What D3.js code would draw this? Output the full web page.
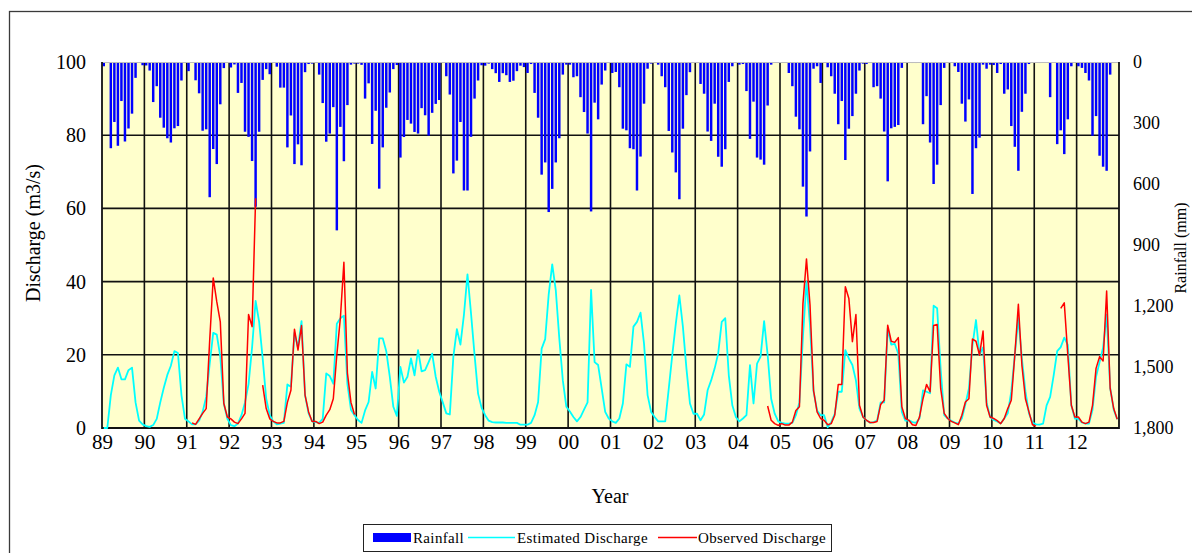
<!DOCTYPE html>
<html><head><meta charset="utf-8">
<script src="https://cdn.jsdelivr.net/npm/d3@7"></script>
<style>
html,body{margin:0;padding:0;background:#fff;}
svg{display:block;font-family:"Liberation Serif","Times New Roman",serif;}
</style></head>
<body><svg id="chart" width="1192" height="553"></svg>
<script>
// ---- data (monthly, Jan 1989 .. Dec 2012) ----
const yearLabels = ["89","90","91","92","93","94","95","96","97","98","99","00","01","02","03","04","05","06","07","08","09","10","11","12"];
const dischargeTicks = [0,20,40,60,80,100];
const rainfallTicks = [0,300,600,900,1200,1500,1800];

// Rainfall (mm), one row per year
const rainfall = [
 21,0,424,295,412,192,391,327,254,78,0,16,
 17,42,197,119,274,323,375,396,326,315,91,5,
 45,0,90,154,338,331,665,428,502,208,30,0,
 27,12,152,103,343,368,487,712,343,88,35,60,
 0,23,126,126,420,263,502,405,508,50,10,8,
 5,62,202,392,352,222,828,319,488,212,13,8,
 8,14,180,105,403,240,623,420,225,150,35,15,
 470,369,285,303,344,352,227,262,362,250,206,187,
 5,70,160,548,485,295,632,632,368,180,91,16,
 18,8,35,55,98,55,65,98,92,45,18,25,
 54,10,152,274,554,494,738,624,494,375,62,13,
 13,75,70,173,246,352,735,200,282,111,42,5,
 54,49,124,328,336,424,429,632,465,205,33,8,
 5,13,70,124,339,445,543,675,328,163,50,5,
 5,108,156,342,388,205,466,515,429,98,21,5,
 13,10,143,378,195,470,480,505,214,13,0,0,
 0,0,54,119,269,331,613,760,440,33,21,103,
 0,26,70,156,306,192,482,328,266,156,42,8,
 10,5,124,119,180,342,587,326,319,310,29,0,
 5,5,5,0,306,168,396,600,505,212,29,0,
 0,21,49,205,293,184,649,424,372,13,33,13,
 15,54,10,156,135,315,417,535,245,156,10,0,
 0,5,0,0,173,0,404,336,453,282,21,0,
 21,29,54,91,363,266,461,515,535,62,5,0
];

// Estimated discharge (m3/s)
const estimated = [
 0,0,9,14.4,16.5,13.3,13.3,15.8,16.5,7,2,1,
 0.5,0.3,0.8,2.5,7,11,14.5,17,21,20.5,9,2.5,
 1.8,1,1,2,4.4,8.5,17.6,26,25.5,19.5,6.7,2.5,
 0.8,0.5,1.2,3.5,7,12,22,34.7,29,19,8,3.5,
 1.8,1,1.2,1.4,11.9,11.3,26,22,29.2,9,4,1.8,
 1.6,1.4,2.5,14.9,14.2,12.1,28.5,30,30.7,12,5,3.5,
 2.2,1.4,4.8,7.1,15.3,10.8,24.5,24.5,21,14,5.8,3.3,
 16.7,12.4,14,19,14.4,21.3,15.5,15.8,18,20.3,14,9.9,
 7,4,3.7,19.5,27,22.8,31,42,31.3,20,9.4,5.5,
 3.5,2,1.6,1.5,1.5,1.5,1.4,1.4,1.4,1.4,0.9,0.9,
 0.9,1.4,3.5,7.1,21.7,24.3,36.5,44.7,37.7,24.5,13,5.8,
 4.5,3,1.8,3,5,7,37.7,18,17.2,10.8,4.4,2.6,
 1.8,1.4,2.6,6.7,17.4,16.7,27.7,29,31.5,23,9,4.4,
 3,1.8,1.8,1.8,10.8,20,28.6,36.2,27.7,16.3,6.7,3.9,
 3.9,2.1,3.7,10.3,13,16.3,20.4,29,30,14.4,6.2,3,
 1.8,2.6,3.5,17.2,6.7,17.6,19.5,29.2,20,8,3.9,1.8,
 1.4,1.2,1.2,1.4,3.5,7,25,40,28,10,4.8,3.5,
 3.5,0.2,1.6,3.9,9.9,9.9,21.3,19,17.2,13,5.3,3,
 2.1,1.4,1.6,2,7,7,27.2,22.8,23,20.3,4.4,2,
 2.1,1.6,1.4,2.6,10.3,9.9,9.5,33.4,32.7,16,3.5,2.6,
 2,1.5,1.2,2.6,6.5,10.8,22.6,29.5,20,22,7,3,
 2.2,1.8,1.2,2.6,4,10,20,30,19,10,4,1.5,
 1,0.9,1.2,6.2,8.5,14.4,21,22.1,24.7,22.7,6.2,2.6,
 2.5,1.5,1.2,1.2,5,14,18,22,31,11,5,2.4
];

// Observed discharge (m3/s), null = no record
const observed = [
 null,null,null,null,null,null,null,null,null,null,null,null,
 null,null,null,null,null,null,null,null,null,null,null,null,
 null,1.4,1,2.5,4,5.3,24,41,34.5,29,6.7,3,
 2.5,1.6,1.2,2.5,4,31,27.7,62.8,null,11.7,5.3,2.5,
 1.8,1.4,1.4,1.8,7,10.3,27,21.3,28,9,4.4,1.8,
 1.8,1.2,1.6,3.5,5,8,20,30,45.3,15,7,3.7,
 null,null,null,null,null,null,null,null,null,null,null,null,
 null,null,null,null,null,null,null,null,null,null,null,null,
 null,null,null,null,null,null,null,null,null,null,null,null,
 null,null,null,null,null,null,null,null,null,null,null,null,
 null,null,null,null,null,null,null,null,null,null,null,null,
 null,null,null,null,null,null,null,null,null,null,null,null,
 null,null,null,null,null,null,null,null,null,null,null,null,
 null,null,null,null,null,null,null,null,null,null,null,null,
 null,null,null,null,null,null,null,null,null,null,null,null,
 null,null,null,null,null,null,null,null,6,2.1,1.2,0.7,
 1.2,0.8,0.8,1.6,4.8,5.8,34,46.2,33.6,10.3,4.4,2.6,
 2.1,0.9,1.2,3.5,11.9,11.9,38.6,35.4,23.6,31,6.2,3,
 2.1,1.5,1.5,1.8,6.4,7.6,28.1,23.7,23.4,24.7,5.8,2.6,
 2.1,0.9,0.7,3,8,11.9,9.9,28,28.3,10.8,4,2.6,
 1.8,1.4,0.9,3.5,7.1,8,24.3,23.7,19.9,26.5,6.2,3,
 2.6,2,1.2,2.6,5.3,7.6,20,33.8,17.2,8,4.4,0.9,
 0.5,null,null,null,null,null,null,32.7,34.2,20,6.2,3,
 3,1.6,1.2,1.6,6.2,16.3,19.5,18.3,37.4,10.8,5.3,2.4
];

// ---- layout ----
const svg = d3.select("#chart");
const L = 102, R = 1119, T = 62, B = 428;
const firstYear = 1989, nYears = yearLabels.length;
const months = d3.range(rainfall.length);

const xYear = d3.scaleLinear().domain([firstYear, firstYear + nYears]).range([L, R]);
const xBand = d3.scaleBand().domain(months).range([L, R]).paddingInner(0.3).paddingOuter(0.15);
const yQ = d3.scaleLinear().domain([0, 100]).range([B, T]);
const yRain = d3.scaleLinear().domain([0, 1800]).range([T, B]);
const cx = i => xBand(i) + xBand.bandwidth() / 2;

// outer frame
svg.append("rect").attr("x", 9.5).attr("y", 11.5).attr("width", 1200).attr("height", 600)
  .attr("fill", "#fff").attr("stroke", "#3a3a3a").attr("stroke-width", 1.3);

// plot background
svg.append("rect").attr("x", L).attr("y", T).attr("width", R - L).attr("height", B - T)
  .attr("fill", "#FFFFCC");

// gridlines
const grid = svg.append("g").attr("stroke", "#111").attr("stroke-width", 1.6);
grid.selectAll("line.h").data(dischargeTicks.filter(d => d > 0 && d < 100)).join("line")
  .attr("x1", L).attr("x2", R).attr("y1", d => yQ(d)).attr("y2", d => yQ(d));
grid.selectAll("line.v").data(d3.range(1, nYears)).join("line")
  .attr("y1", T).attr("y2", B).attr("x1", d => xYear(firstYear + d)).attr("x2", d => xYear(firstYear + d));

// rainfall bars (hanging from top)
svg.append("g").selectAll("rect").data(months).join("rect")
  .attr("x", i => xBand(i)).attr("width", xBand.bandwidth())
  .attr("y", T).attr("height", i => yRain(rainfall[i]) - T)
  .attr("fill", "#0000FF");

// plot border
svg.append("line").attr("x1", L).attr("x2", R).attr("y1", T + 0.5).attr("y2", T + 0.5)
  .attr("stroke", "#bdbdbd").attr("stroke-width", 1);
const border = svg.append("g").attr("stroke", "#111").attr("stroke-width", 1.8);
border.append("line").attr("x1", L).attr("x2", L).attr("y1", T).attr("y2", B + 1);
border.append("line").attr("x1", R).attr("x2", R).attr("y1", T).attr("y2", B + 1);
border.append("line").attr("x1", L).attr("x2", R).attr("y1", B).attr("y2", B);

// lines
const line = d3.line().defined(i => i.v != null).x(d => cx(d.i)).y(d => yQ(d.v));
svg.append("path").datum(months.map(i => ({i, v: estimated[i]})))
  .attr("d", line).attr("fill", "none").attr("stroke", "#00FFFF").attr("stroke-width", 1.8)
  .attr("stroke-linejoin", "round");
svg.append("path").datum(months.map(i => ({i, v: observed[i]})))
  .attr("d", line).attr("fill", "none").attr("stroke", "#FF0000").attr("stroke-width", 1.5)
  .attr("stroke-linejoin", "round");

// axes
const styleAxis = (g, size) => {
  g.select(".domain").remove();
  g.selectAll(".tick line").remove();
  g.selectAll("text").attr("font-family", "Liberation Serif").attr("font-size", size).attr("fill", "#000");
};
svg.append("g").attr("transform", `translate(${L},0)`)
  .call(d3.axisLeft(yQ).tickValues(dischargeTicks).tickSize(0).tickPadding(16))
  .call(g => styleAxis(g, 20));
svg.append("g").attr("transform", `translate(${R},0)`)
  .call(d3.axisRight(yRain).tickValues(rainfallTicks).tickSize(0).tickPadding(14).tickFormat(d3.format(",")))
  .call(g => styleAxis(g, 18));
svg.append("g").attr("transform", `translate(0,${B})`)
  .call(d3.axisBottom(xYear).tickValues(d3.range(firstYear, firstYear + nYears)).tickSize(0).tickPadding(6)
    .tickFormat((d, k) => yearLabels[k]))
  .call(g => styleAxis(g, 21));

// titles
svg.append("text").attr("transform", "translate(40,233) rotate(-90)").attr("text-anchor", "middle")
  .attr("font-size", 20).text("Discharge (m3/s)");
svg.append("text").attr("transform", "translate(1186,248) rotate(-90)").attr("text-anchor", "middle")
  .attr("font-size", 16).text("Rainfall (mm)");
svg.append("text").attr("x", 610).attr("y", 503).attr("text-anchor", "middle")
  .attr("font-size", 20).text("Year");

// legend
const lg = svg.append("g").attr("font-size", 15).attr("letter-spacing", 0.35);
lg.append("rect").attr("x", 363.5).attr("y", 524.5).attr("width", 468).attr("height", 27)
  .attr("fill", "#fff").attr("stroke", "#222").attr("stroke-width", 1);
lg.append("rect").attr("x", 373).attr("y", 533).attr("width", 38).attr("height", 9).attr("fill", "#0000FF");
lg.append("text").attr("x", 413).attr("y", 542.5).text("Rainfall");
lg.append("line").attr("x1", 468).attr("x2", 515).attr("y1", 537.5).attr("y2", 537.5).attr("stroke", "#00FFFF").attr("stroke-width", 1.5);
lg.append("text").attr("x", 517).attr("y", 542.5).text("Estimated Discharge");
lg.append("line").attr("x1", 658).attr("x2", 697).attr("y1", 537.5).attr("y2", 537.5).attr("stroke", "#FF0000").attr("stroke-width", 1.5);
lg.append("text").attr("x", 698).attr("y", 542.5).text("Observed Discharge");
</script></body></html>
